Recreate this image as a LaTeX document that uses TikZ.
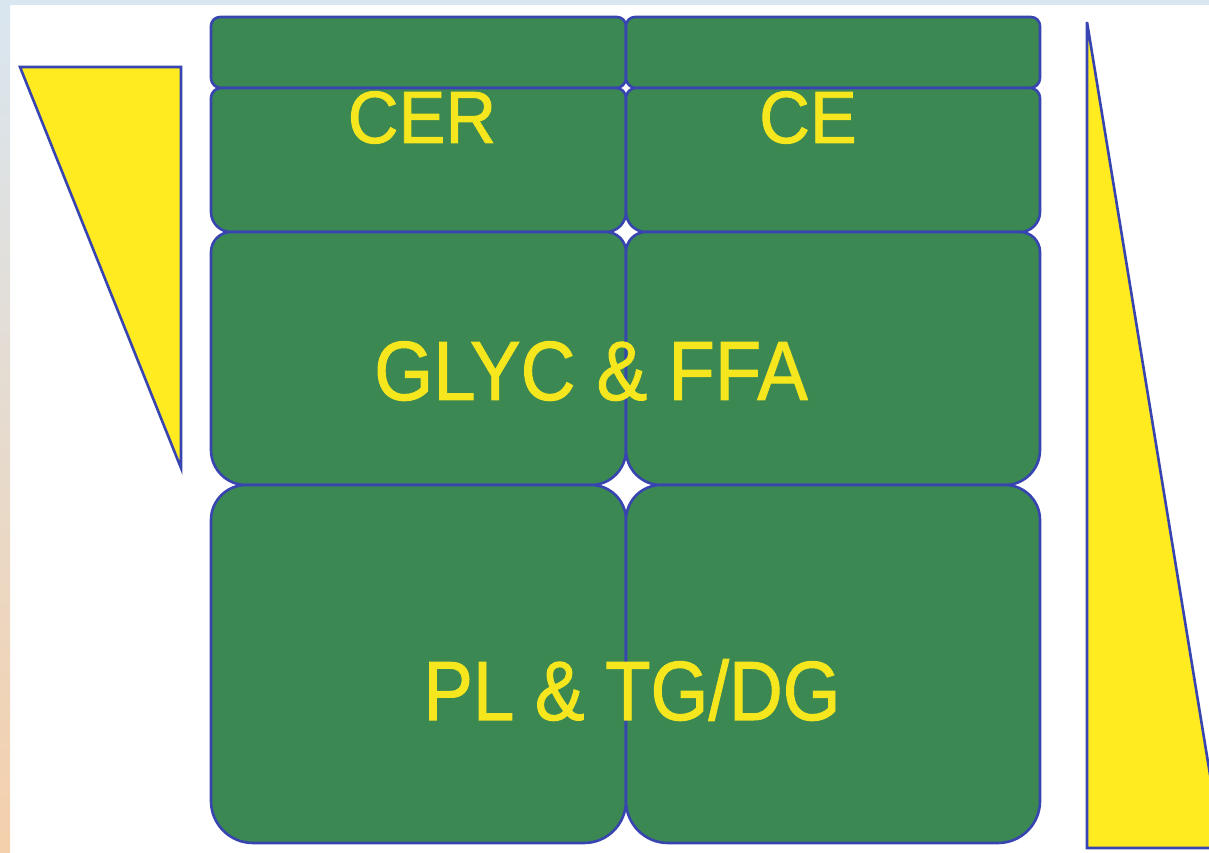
\documentclass[tikz,border=0pt]{standalone}
\usepackage{fontspec}
\setmainfont{Liberation Sans}
\newfontface\lblface{Liberation Sans}[FakeBold=1.2]
\definecolor{gfill}{HTML}{3B8852}
\definecolor{bline}{HTML}{3844B0}
\definecolor{yfill}{HTML}{FFEB1F}
\definecolor{ytext}{HTML}{F5E61E}
\definecolor{bgblue}{HTML}{D9E6F0}
\definecolor{bgpeach}{HTML}{F4D0AC}
\tikzset{
  gb/.style={fill=gfill, draw=bline, line width=2.6pt, line join=round},
  tri/.style={fill=yfill, draw=bline, line width=2.6pt, line join=miter},
  lbl/.style={text=ytext, anchor=base, inner sep=0pt},
}
% x1 ytop x2 ybot rtop rbottom  (pixel coordinates, y downward)
\newcommand\gbox[6]{%
  \path[gb] (#1,{853-#2-#5}) arc[start angle=180,end angle=90,radius=#5pt]
    -- ({#3-#5},{853-#2}) arc[start angle=90,end angle=0,radius=#5pt]
    -- (#3,{853-#4+#6}) arc[start angle=0,end angle=-90,radius=#6pt]
    -- ({#1+#6},{853-#4}) arc[start angle=270,end angle=180,radius=#6pt]
    -- cycle;}
\begin{document}
\begin{tikzpicture}[x=1pt,y=1pt]
\useasboundingbox (0,0) rectangle (1209,853);
\begin{scope}
\clip (0,0) rectangle (1209,853);
\fill[white] (0,0) rectangle (1209,853);
% background strips
\fill[bgblue] (0,848) rectangle (1209,853);
\shade[top color=bgblue, bottom color=bgpeach] (0,0) rectangle (10,848);
% left triangle
\path[tri] (20,{853-67}) -- (181,{853-67}) -- (181,{853-468}) -- cycle;
% right triangle
\path[tri] (1087,{853-22}) -- (1222,{853-848}) -- (1087,{853-848}) -- cycle;
% green blocks
\gbox{211}{17}{626}{88}{9}{10}
\gbox{626}{17}{1040}{88}{9}{10}
\gbox{211}{88}{626}{232}{10}{20}
\gbox{626}{88}{1040}{232}{10}{20}
\gbox{211}{232}{626}{485}{20}{35}
\gbox{626}{232}{1040}{485}{20}{35}
\gbox{211}{485}{626}{843}{35}{42}
\gbox{626}{485}{1040}{843}{35}{42}
% labels
\node[lbl, font=\lblface\fontsize{74pt}{74pt}\selectfont, xscale=0.95] (cer) at (422,{853-143}) {CER};
\node[lbl, font=\lblface\fontsize{74pt}{74pt}\selectfont, xscale=0.95] (ce) at (808,{853-143}) {CE};
\node[lbl, font=\lblface\fontsize{84pt}{84pt}\selectfont, xscale=0.905] (glyc) at (591,{853-400}) {GLYC \& FFA};
\node[lbl, font=\lblface\fontsize{84pt}{84pt}\selectfont, xscale=0.885] (pl) at (632,{853-720}) {PL \& TG/DG};
\end{scope}
\end{tikzpicture}
\end{document}
